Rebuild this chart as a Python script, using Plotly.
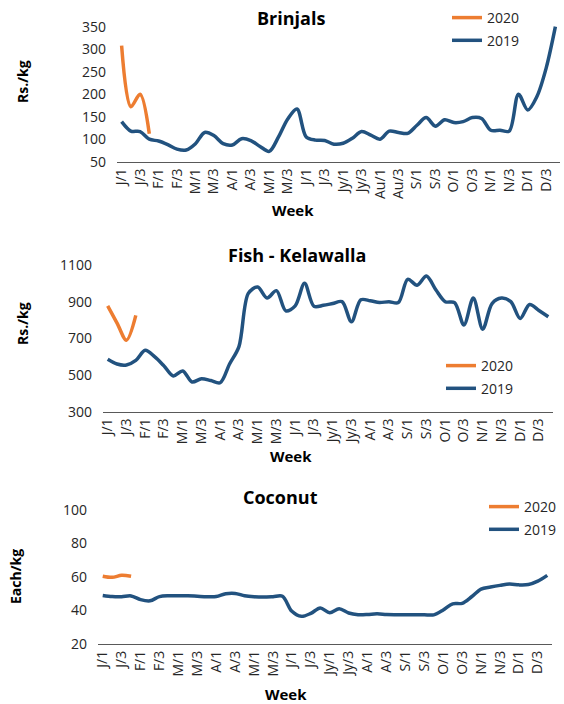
import plotly.graph_objects as go

W, H = 564, 704

week_index = list(range(48))
tick_positions = list(range(0, 48, 2))
brinjal_ticks = ["J/1", "J/3", "F/1", "F/3", "M/1", "M/3", "A/1", "A/3", "M/1", "M/3", "J/1", "J/3",
                 "Jy/1", "Jy/3", "Au/1", "Au/3", "S/1", "S/3", "O/1", "O/3", "N/1", "N/3", "D/1", "D/3"]
other_ticks = ["J/1", "J/3", "F/1", "F/3", "M/1", "M/3", "A/1", "A/3", "M/1", "M/3", "J/1", "J/3",
               "Jy/1", "Jy/3", "A/1", "A/3", "S/1", "S/3", "O/1", "O/3", "N/1", "N/3", "D/1", "D/3"]

brinjal_2019 = [139, 118, 117, 100, 96, 88, 78, 76, 90, 115, 108, 90, 87, 101, 97, 84, 73, 105, 145, 167,
                105, 98, 97, 89, 91, 102, 117, 109, 100, 118, 115, 113, 131, 148, 129, 143, 137, 139, 148, 146,
                120, 120, 118, 200, 165, 195, 258, 350]
brinjal_2020 = [308, 172, 200, 112]

fish_2019 = [586, 560, 555, 580, 635, 600, 550, 495, 522, 462, 480, 470, 458, 560, 655, 945, 980, 920, 960, 850,
             877, 1000, 875, 880, 890, 900, 790, 910, 905, 895, 900, 895, 1022, 990, 1040, 965, 900, 895, 773, 920,
             750, 890, 920, 900, 808, 885, 852, 818]
fish_2020 = [877, 783, 690, 825]

coconut_2019 = [49, 48.3, 48.2, 48.7, 46.5, 45.8, 48.3, 48.8, 48.8, 48.8, 48.5, 48.2, 48.3, 50, 50.2, 48.8,
                48.2, 48, 48.2, 48.5, 39.5, 36.5, 38.3, 41.5, 38.7, 41, 38.5, 37.5, 37.6, 38, 37.6, 37.5,
                37.5, 37.5, 37.5, 37.4, 40.3, 44, 44.3, 48.2, 52.8, 54, 55, 55.8, 55.3, 55.5, 57.5, 61]
coconut_2020 = [60.5, 59.8, 61.0, 60.4]

BLUE = "#22527f"
ORANGE = "#ed7d31"
FONT = "Open Sans"
TXT = "#262626"

fig = go.Figure()
fig.update_layout(template="none")

def px_x(x):
    return x / W

def px_y(y):
    return 1 - y / H

panels = [
    dict(n="", ticks=brinjal_ticks, s19=brinjal_2019, s20=brinjal_2020, xd=(117, 560), yd=(25.8, 161.7),
         yr=[50, 352], dt=50, leg="legend"),
    dict(n="2", ticks=other_ticks, s19=fish_2019, s20=fish_2020, xd=(103, 553), yd=(265, 411.7),
         yr=[300, 1100], dt=200, leg="legend2"),
    dict(n="3", ticks=other_ticks, s19=coconut_2019, s20=coconut_2020, xd=(98, 552), yd=(510, 644),
         yr=[20, 100], dt=20, leg="legend3"),
]

for p in panels:
    xa = "x" + p["n"]
    ya = "y" + p["n"]
    fig.add_trace(go.Scatter(x=week_index, y=p["s19"], name="2019", mode="lines", xaxis=xa, yaxis=ya,
                             line=dict(color=BLUE, width=3.5, shape="spline", smoothing=0.9),
                             legend=p["leg"], legendgroup="a" + p["n"], legendrank=2))
    fig.add_trace(go.Scatter(x=week_index[:len(p["s20"])], y=p["s20"], name="2020", mode="lines",
                             xaxis=xa, yaxis=ya,
                             line=dict(color=ORANGE, width=3.5, shape="spline", smoothing=0.9),
                             legend=p["leg"], legendgroup="b" + p["n"], legendrank=1))
    fig.layout["xaxis" + p["n"]] = dict(
        domain=[px_x(p["xd"][0]), px_x(p["xd"][1])], range=[-0.5, 47.5], anchor=ya, automargin=False,
        tickvals=tick_positions, ticktext=p["ticks"], tickangle=-90, showgrid=False, zeroline=False,
        showline=True, linecolor="#595959", linewidth=1.3, ticks="",
        tickfont=dict(family=FONT, size=14, color=TXT), fixedrange=True)
    fig.layout["yaxis" + p["n"]] = dict(
        domain=[px_y(p["yd"][1]), px_y(p["yd"][0])], range=p["yr"], anchor=xa, dtick=p["dt"], automargin=False,
        tick0=p["yr"][0], showgrid=False, zeroline=False, showline=False, ticks="",
        ticklabelstandoff=10, tickfont=dict(family=FONT, size=14, color=TXT), fixedrange=True)

legend_common = dict(bgcolor="rgba(0,0,0,0)", font=dict(family=FONT, size=14, color=TXT),
                     traceorder="grouped", tracegroupgap=1.5, xanchor="left", yanchor="top",
                     itemwidth=30)
fig.update_layout(
    legend=dict(x=px_x(447), y=px_y(2), **legend_common),
    legend2=dict(x=px_x(441), y=px_y(350), **legend_common),
    legend3=dict(x=px_x(484), y=px_y(491), **legend_common),
)

annots = [
    ("<b>Brinjals</b>", 291, 18, 18, 0),
    ("<b>Fish - Kelawalla</b>", 297, 255, 18, 0),
    ("<b>Coconut</b>", 280, 497, 18, 0),
    ("<b>Week</b>", 293, 210, 15, 0),
    ("<b>Week</b>", 291, 456, 15, 0),
    ("<b>Week</b>", 286, 694, 15, 0),
    ("<b>Rs./kg</b>", 23, 82, 14, -90),
    ("<b>Rs./kg</b>", 22, 324, 14, -90),
    ("<b>Each/kg</b>", 15, 577, 14, -90),
]
for text, x, y, size, ang in annots:
    fig.add_annotation(text=text, x=px_x(x), y=px_y(y), xref="paper", yref="paper", showarrow=False,
                       xanchor="center", yanchor="middle", textangle=ang,
                       font=dict(family=FONT, size=size, color="#000000"))

fig.update_layout(width=W, height=H, margin=dict(l=0, r=0, t=0, b=0, pad=0), autosize=False,
                  paper_bgcolor="white", plot_bgcolor="white", showlegend=True)

fig.write_html("out.html", config={"displayModeBar": False},
               post_script="document.body.style.margin='0';document.body.style.overflow='hidden';")
